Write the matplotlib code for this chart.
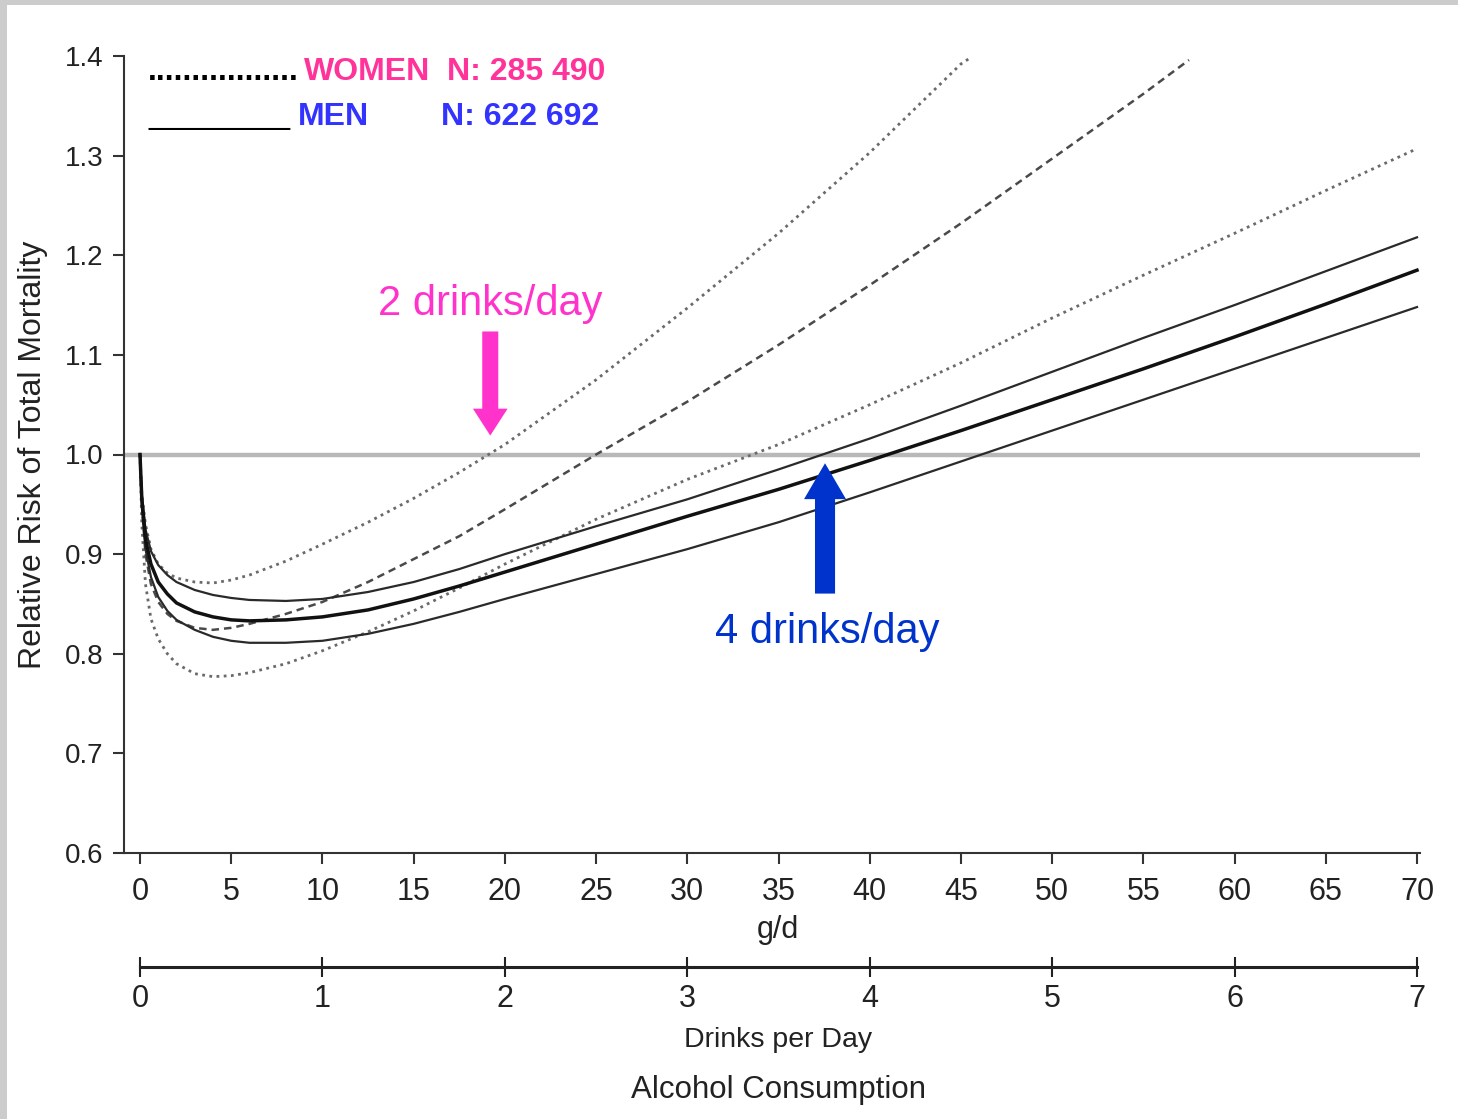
import matplotlib
matplotlib.use("Agg")
import matplotlib.pyplot as plt
from matplotlib.patches import Rectangle, FancyArrow

# ---------------- data ----------------
x_gd = [0, 0.1, 0.3, 0.6, 1, 1.5, 2, 3, 4, 5, 6, 8, 10, 12.5, 15, 17.5, 20,
        25, 30, 35, 40, 45, 50, 55, 60, 65, 70]
men_rr = [1.0, 0.955, 0.915, 0.89, 0.872, 0.860, 0.851, 0.842, 0.837, 0.834, 0.833,
          0.834, 0.837, 0.844, 0.855, 0.868, 0.882, 0.910, 0.938, 0.965, 0.994,
          1.024, 1.055, 1.086, 1.118, 1.151, 1.185]
men_upper = [1.0, 0.96, 0.925, 0.903, 0.889, 0.879, 0.872, 0.864, 0.859, 0.856, 0.854,
             0.853, 0.855, 0.862, 0.872, 0.885, 0.900, 0.928, 0.955, 0.985, 1.016,
             1.049, 1.083, 1.117, 1.150, 1.184, 1.218]
men_lower = [1.0, 0.95, 0.905, 0.877, 0.857, 0.843, 0.834, 0.824, 0.817, 0.813, 0.811,
             0.811, 0.813, 0.820, 0.830, 0.842, 0.855, 0.880, 0.905, 0.932, 0.962,
             0.993, 1.024, 1.055, 1.086, 1.117, 1.148]
women_lower = [1.0, 0.93, 0.87, 0.835, 0.815, 0.800, 0.790, 0.780, 0.777, 0.778, 0.781,
               0.790, 0.803, 0.822, 0.843, 0.866, 0.890, 0.935, 0.975, 1.010, 1.050,
               1.092, 1.137, 1.180, 1.222, 1.265, 1.307]
x_women_rr = [0, 0.1, 0.3, 0.6, 1, 1.5, 2, 3, 4, 5, 6, 8, 10, 12.5, 15, 17.5, 20,
              25, 30, 35, 40, 45, 50, 55, 57.5]
women_rr = [1.0, 0.95, 0.9, 0.87, 0.852, 0.840, 0.833, 0.826, 0.824, 0.826, 0.830,
            0.840, 0.852, 0.872, 0.895, 0.918, 0.945, 1.0, 1.053, 1.110, 1.170,
            1.232, 1.297, 1.362, 1.396]
x_women_upper = [0, 0.1, 0.3, 0.6, 1, 1.5, 2, 3, 4, 5, 6, 8, 10, 12.5, 15, 17.5, 20,
                 25, 30, 35, 40, 45, 45.5]
women_upper = [1.0, 0.96, 0.93, 0.905, 0.89, 0.881, 0.876, 0.872, 0.871, 0.874, 0.879,
               0.893, 0.910, 0.932, 0.956, 0.982, 1.010, 1.075, 1.147, 1.222, 1.303,
               1.392, 1.398]

gd_ticks = list(range(0, 71, 5))
rr_ticks = [0.6, 0.7, 0.8, 0.9, 1.0, 1.1, 1.2, 1.3, 1.4]
drink_ticks = list(range(0, 8))

# ---------------- figure ----------------
W, H = 1458, 1119
fig = plt.figure(figsize=(W / 100, H / 100), dpi=100)
fig.patch.set_facecolor("#cccccc")
fig.patches.append(Rectangle((7 / W, 0), 1, (H - 5) / H, transform=fig.transFigure,
                             facecolor="white", edgecolor="none", zorder=-10))


def fx(px):
    return px / W


def fy(py):
    return 1 - py / H


SANS = ["Liberation Sans", "DejaVu Sans"]
AXC = "#333333"
TXT = "#222222"

ax = fig.add_axes([fx(124), fy(853), fx(1420) - fx(124), fy(56) - fy(853)])
ax.set_facecolor("none")
ax.set_xlim(-0.877, 70.164)
ax.set_ylim(0.6, 1.4)
for s in ("top", "right"):
    ax.spines[s].set_visible(False)
for s in ("left", "bottom"):
    ax.spines[s].set_linewidth(1.5)
    ax.spines[s].set_color(AXC)

ax.set_xticks(gd_ticks)
ax.set_xticklabels([str(t) for t in gd_ticks], family=SANS, fontsize=22)
ax.set_yticks(rr_ticks)
ax.set_yticklabels(["%.1f" % t for t in rr_ticks], family=SANS, fontsize=20)
ax.tick_params(axis="both", direction="out", length=8, width=1.5, color=AXC,
               labelcolor=TXT)
ax.tick_params(axis="x", pad=9)
ax.tick_params(axis="y", pad=7)

# reference line
ax.axhline(1.0, color="#b8b8b8", lw=3.2, zorder=1)

# curves
dot_style = (0, (1.0, 1.6))
ax.plot(x_women_upper, women_upper, color="#6a6a6a", lw=2.0, ls=dot_style, zorder=3)
ax.plot(x_gd, women_lower, color="#6a6a6a", lw=2.0, ls=dot_style, zorder=3)
ax.plot(x_women_rr, women_rr, color="#4a4a4a", lw=1.8, ls=(0, (3.0, 2.0)), zorder=3)
ax.plot(x_gd, men_upper, color="#2a2a2a", lw=1.6, zorder=4)
ax.plot(x_gd, men_lower, color="#2a2a2a", lw=1.6, zorder=4)
ax.plot(x_gd, men_rr, color="#111111", lw=2.5, zorder=5)

# annotations
PINK = "#ff33cc"
BLUE = "#0033cc"
ax.add_patch(FancyArrow(19.2, 1.1235, 0, -(1.1235 - 1.019), width=0.88,
                        head_width=1.9, head_length=0.027, length_includes_head=True,
                        color=PINK, lw=0, zorder=6))
ax.add_patch(FancyArrow(37.55, 0.8604, 0, 0.9912 - 0.8604, width=1.1,
                        head_width=2.3, head_length=0.036, length_includes_head=True,
                        color=BLUE, lw=0, zorder=6))
ax.text(19.2, 1.1405, "2 drinks/day", color=PINK, fontsize=30, family=SANS,
        ha="center", va="baseline", zorder=7)
ax.text(37.66, 0.8103, "4 drinks/day", color=BLUE, fontsize=30, family=SANS,
        ha="center", va="baseline", zorder=7)

# legend-like header
fig.text(fx(148), fy(80), ".................", fontsize=23, fontweight="bold",
         family=SANS, color="black", va="baseline")
fig.text(fx(304), fy(80), "WOMEN", fontsize=23, fontweight="bold", family=SANS,
         color="#ff3399", va="baseline")
fig.text(fx(447), fy(80), "N: 285 490", fontsize=23, fontweight="bold", family=SANS,
         color="#ff3399", va="baseline")
fig.text(fx(148), fy(124), "________", fontsize=23, family=SANS, color="black",
         va="baseline")
fig.text(fx(298), fy(125), "MEN", fontsize=23, fontweight="bold", family=SANS,
         color="#3333ff", va="baseline")
fig.text(fx(441), fy(125), "N: 622 692", fontsize=23, fontweight="bold", family=SANS,
         color="#3333ff", va="baseline")

# axis titles
fig.text(fx(33), fy(455), "Relative Risk of Total Mortality", rotation=90,
         family=SANS, fontsize=23, ha="center", va="center", color=TXT)
fig.text(fx(778), fy(930), "g/d", family=SANS, fontsize=22, ha="center",
         va="center", color=TXT)

# secondary drinks-per-day axis
ax2 = fig.add_axes([fx(140), fy(967), fx(1417) - fx(140), 0.0001])
ax2.set_facecolor("none")
ax2.set_xlim(0, 7)
ax2.set_ylim(0, 1)
for s in ("top", "right", "left"):
    ax2.spines[s].set_visible(False)
ax2.spines["bottom"].set_linewidth(2.2)
ax2.spines["bottom"].set_color(TXT)
ax2.set_yticks([])
ax2.set_xticks(drink_ticks)
ax2.set_xticklabels([str(t) for t in drink_ticks], family=SANS, fontsize=22)
ax2.tick_params(axis="x", direction="inout", length=14, width=1.5, color=TXT,
                labelcolor=TXT, pad=5)

fig.text(fx(778), fy(1040), "Drinks per Day", family=SANS, fontsize=20.5,
         ha="center", va="center", color=TXT)
fig.text(fx(778), fy(1090), "Alcohol Consumption", family=SANS, fontsize=22.5,
         ha="center", va="center", color=TXT)

fig.savefig("out.png", dpi=100, facecolor=fig.get_facecolor())
